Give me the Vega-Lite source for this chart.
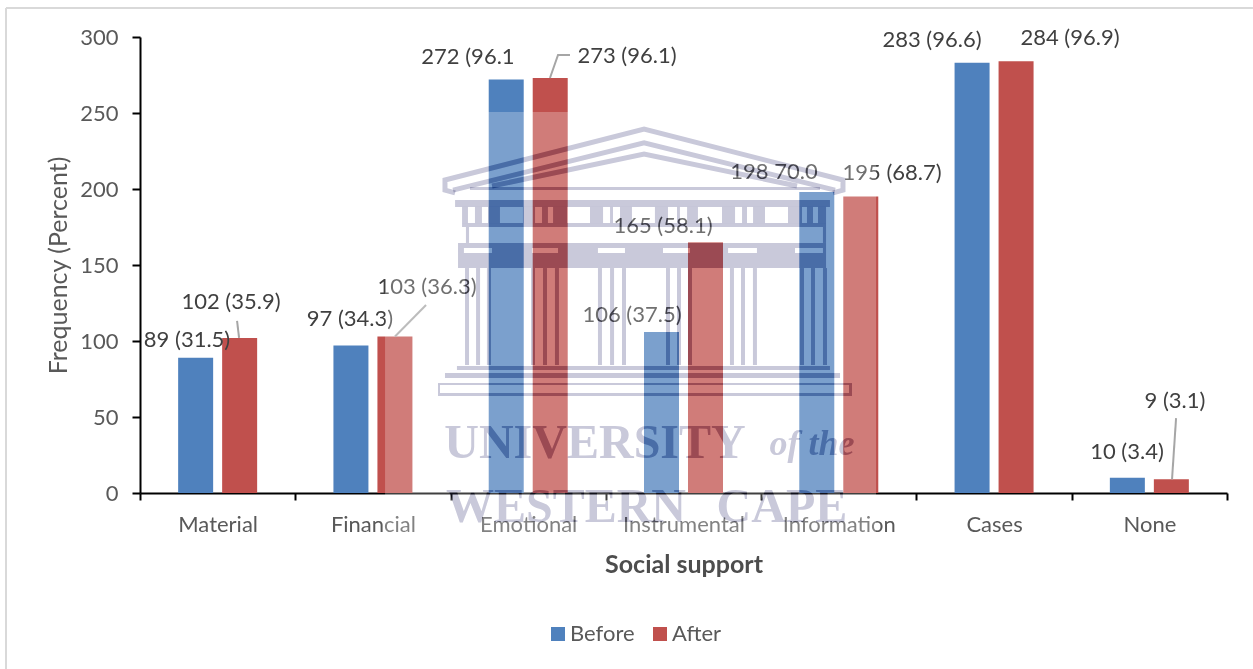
{
  "$schema": "https://vega.github.io/schema/vega-lite/v6.json",
  "width": 1087,
  "height": 456,
  "autosize": "none",
  "padding": {"left": 140, "top": 37, "right": 26, "bottom": 176},
  "background": "white",
  "config": {"view": {"stroke": null}, "font": "Lato"},
  "datasets": {
    "support": [
      {"type": "Material", "period": "Before", "frequency": 89, "label": "89 (31.5)", "labelAt": 0.303, "labelLevel": 100.7},
      {"type": "Material", "period": "After", "frequency": 102, "label": "102 (35.9)", "labelAt": 0.586, "labelLevel": 125.7},
      {"type": "Financial", "period": "Before", "frequency": 97, "label": "97 (34.3)", "labelAt": 1.352, "labelLevel": 114.5},
      {"type": "Financial", "period": "After", "frequency": 103, "label": "103 (36.3)", "labelAt": 1.848, "labelLevel": 135.5},
      {"type": "Emotional", "period": "Before", "frequency": 272, "label": "272 (96.1", "labelAt": 2.112, "labelLevel": 286.8},
      {"type": "Emotional", "period": "After", "frequency": 273, "label": "273 (96.1)", "labelAt": 3.136, "labelLevel": 287.5},
      {"type": "Instrumental", "period": "Before", "frequency": 106, "label": "106 (37.5)", "labelAt": 3.168, "labelLevel": 117.1},
      {"type": "Instrumental", "period": "After", "frequency": 165, "label": "165 (58.1)", "labelAt": 3.368, "labelLevel": 175.7},
      {"type": "Information", "period": "Before", "frequency": 198, "label": "198 70.0", "labelAt": 4.083, "labelLevel": 211.2},
      {"type": "Information", "period": "After", "frequency": 195, "label": "195 (68.7)", "labelAt": 4.843, "labelLevel": 210.5},
      {"type": "Cases", "period": "Before", "frequency": 283, "label": "283 (96.6)", "labelAt": 5.1, "labelLevel": 298},
      {"type": "Cases", "period": "After", "frequency": 284, "label": "284 (96.9)", "labelAt": 5.989, "labelLevel": 299.3},
      {"type": "None", "period": "Before", "frequency": 10, "label": "10 (3.4)", "labelAt": 6.356, "labelLevel": 27},
      {"type": "None", "period": "After", "frequency": 9, "label": "9 (3.1)", "labelAt": 6.665, "labelLevel": 60.5}
    ],
    "frame": [
      {"a": -0.863, "b": 7.167, "lo": 319.08, "hi": 319.08},
      {"a": -0.863, "b": -0.863, "lo": -115.8, "hi": 319.08}
    ],
    "leaders": [
      {"id": "material", "step": 1, "a": 0.625, "level": 113.2},
      {"id": "material", "step": 2, "a": 0.638, "level": 102},
      {"id": "financial", "step": 1, "a": 1.842, "level": 123.7},
      {"id": "financial", "step": 2, "a": 1.642, "level": 103},
      {"id": "emotional", "step": 1, "a": 2.64, "level": 273},
      {"id": "emotional", "step": 2, "a": 2.692, "level": 288.2},
      {"id": "emotional", "step": 3, "a": 2.769, "level": 288.2},
      {"id": "none", "step": 1, "a": 6.646, "level": 9},
      {"id": "none", "step": 2, "a": 6.672, "level": 49.3}
    ],
    "haze": [{"a": 1.578, "b": 4.74, "lo": -30.9, "hi": 250.7}],
    "crestBlocks": [
      {"a": 2.125, "b": 4.379, "lo": 199.3, "hi": 201.3},
      {"a": 2.029, "b": 4.443, "lo": 188.2, "hi": 192.8},
      {"a": 2.074, "b": 4.418, "lo": 175, "hi": 177.6},
      {"a": 2.099, "b": 2.119, "lo": 164.5, "hi": 175},
      {"a": 4.398, "b": 4.418, "lo": 164.5, "hi": 175},
      {"a": 2.048, "b": 4.418, "lo": 161.2, "hi": 164.5},
      {"a": 2.048, "b": 4.418, "lo": 148, "hi": 157.9},
      {"a": 2.048, "b": 2.086, "lo": 157.9, "hi": 161.2},
      {"a": 2.267, "b": 2.524, "lo": 157.9, "hi": 161.2},
      {"a": 2.692, "b": 2.949, "lo": 157.9, "hi": 161.2},
      {"a": 3.123, "b": 3.368, "lo": 157.9, "hi": 161.2},
      {"a": 3.542, "b": 3.787, "lo": 157.9, "hi": 161.2},
      {"a": 3.973, "b": 4.218, "lo": 157.9, "hi": 161.2},
      {"a": 4.398, "b": 4.418, "lo": 157.9, "hi": 161.2},
      {"a": 2.074, "b": 2.112, "lo": 177.6, "hi": 188.2},
      {"a": 2.157, "b": 2.202, "lo": 177.6, "hi": 188.2},
      {"a": 2.241, "b": 2.318, "lo": 177.6, "hi": 188.2},
      {"a": 2.466, "b": 2.544, "lo": 177.6, "hi": 188.2},
      {"a": 2.589, "b": 2.627, "lo": 177.6, "hi": 188.2},
      {"a": 2.66, "b": 2.75, "lo": 177.6, "hi": 188.2},
      {"a": 2.898, "b": 2.982, "lo": 177.6, "hi": 188.2},
      {"a": 3.027, "b": 3.046, "lo": 177.6, "hi": 188.2},
      {"a": 3.091, "b": 3.168, "lo": 177.6, "hi": 188.2},
      {"a": 3.316, "b": 3.4, "lo": 177.6, "hi": 188.2},
      {"a": 3.458, "b": 3.477, "lo": 177.6, "hi": 188.2},
      {"a": 3.523, "b": 3.593, "lo": 177.6, "hi": 188.2},
      {"a": 3.748, "b": 3.832, "lo": 177.6, "hi": 188.2},
      {"a": 3.877, "b": 3.909, "lo": 177.6, "hi": 188.2},
      {"a": 3.948, "b": 4.025, "lo": 177.6, "hi": 188.2},
      {"a": 4.173, "b": 4.263, "lo": 177.6, "hi": 188.2},
      {"a": 4.295, "b": 4.334, "lo": 177.6, "hi": 188.2},
      {"a": 4.366, "b": 4.418, "lo": 177.6, "hi": 188.2},
      {"a": 2.041, "b": 4.443, "lo": 81, "hi": 83.6},
      {"a": 1.964, "b": 4.508, "lo": 75.7, "hi": 78.9},
      {"a": 1.919, "b": 4.585, "lo": 71.1, "hi": 72.4},
      {"a": 1.919, "b": 4.585, "lo": 63.8, "hi": 65.8},
      {"a": 1.919, "b": 1.932, "lo": 65.8, "hi": 71.1},
      {"a": 4.566, "b": 4.585, "lo": 65.8, "hi": 71.1}
    ],
    "crestColumns": [
      {"a": 2.106}, {"a": 2.177}, {"a": 2.247},
      {"a": 2.531}, {"a": 2.608}, {"a": 2.685},
      {"a": 2.962}, {"a": 3.04}, {"a": 3.117},
      {"a": 3.4}, {"a": 3.471}, {"a": 3.542},
      {"a": 3.812}, {"a": 3.883}, {"a": 3.96},
      {"a": 4.263}, {"a": 4.334}, {"a": 4.411}
    ],
    "crestRoof": [
      {"id": "outer", "step": 1, "a": 2.029, "level": 197.4},
      {"id": "outer", "step": 2, "a": 1.964, "level": 199.3},
      {"id": "outer", "step": 3, "a": 1.964, "level": 205.9},
      {"id": "outer", "step": 4, "a": 3.246, "level": 239.5},
      {"id": "outer", "step": 5, "a": 4.527, "level": 205.9},
      {"id": "outer", "step": 6, "a": 4.527, "level": 199.3},
      {"id": "outer", "step": 7, "a": 4.463, "level": 197.4},
      {"id": "middle", "step": 1, "a": 2.016, "level": 199.3},
      {"id": "middle", "step": 2, "a": 3.246, "level": 230.3},
      {"id": "middle", "step": 3, "a": 4.476, "level": 199.3},
      {"id": "inner", "step": 1, "a": 2.267, "level": 202},
      {"id": "inner", "step": 2, "a": 3.246, "level": 223},
      {"id": "inner", "step": 3, "a": 4.231, "level": 202}
    ],
    "crestWords": [
      {"word": "UNIVERSITY", "a": 2.93, "level": 32},
      {"word": "WESTERN", "a": 2.743, "level": -10},
      {"word": "CAPE", "a": 4.134, "level": -10}
    ],
    "crestScript": [
      {"word": "of the", "a": 4.328, "level": 32}
    ]
  },
  "layer": [
    {
      "data": {"name": "frame"},
      "mark": {"type": "rule", "color": "#d9d9d9", "strokeWidth": 2},
      "encoding": {
        "x": {"field": "a", "type": "quantitative", "axis": null, "scale": {"domain": [0, 7], "nice": false}},
        "x2": {"field": "b"},
        "y": {"field": "lo", "type": "quantitative", "axis": null, "scale": {"domain": [0, 300], "nice": false}},
        "y2": {"field": "hi"}
      }
    },
    {
      "data": {"name": "support"},
      "mark": {"type": "bar"},
      "encoding": {
        "x": {
          "field": "type",
          "type": "nominal",
          "sort": null,
          "scale": {"paddingInner": 0, "paddingOuter": 0},
          "axis": {
            "title": "Social support",
            "titleFont": "Lato",
            "titleFontSize": 25,
            "titleFontWeight": "bold",
            "titleColor": "#4d4d4d",
            "titlePadding": 17,
            "labelAngle": 0,
            "labelFont": "Lato",
            "labelFontSize": 22,
            "labelColor": "#595959",
            "labelPadding": 14,
            "domainColor": "#000000",
            "domainWidth": 2,
            "tickColor": "#000000",
            "tickWidth": 2,
            "tickSize": 7,
            "tickBand": "extent",
            "grid": false
          }
        },
        "xOffset": {
          "field": "period",
          "type": "nominal",
          "sort": ["Before", "After"],
          "scale": {"paddingInner": 0.2045, "paddingOuter": 0.867}
        },
        "y": {
          "field": "frequency",
          "type": "quantitative",
          "scale": {"domain": [0, 300], "nice": false},
          "axis": {
            "title": "Frequency (Percent)",
            "titleFont": "Lato",
            "titleFontSize": 25,
            "titleFontWeight": "normal",
            "titleColor": "#595959",
            "titlePadding": 8,
            "values": [0, 50, 100, 150, 200, 250, 300],
            "labelFont": "Lato",
            "labelFontSize": 22,
            "labelColor": "#595959",
            "labelPadding": 14,
            "domainColor": "#000000",
            "domainWidth": 2,
            "tickColor": "#000000",
            "tickWidth": 2,
            "tickSize": 8,
            "grid": false
          }
        },
        "color": {
          "field": "period",
          "type": "nominal",
          "scale": {"domain": ["Before", "After"], "range": ["#4f81bd", "#c0504d"]},
          "legend": {
            "title": null,
            "orient": "none",
            "legendX": 407,
            "legendY": 586,
            "direction": "horizontal",
            "symbolType": "square",
            "symbolSize": 196,
            "symbolStrokeWidth": 0,
            "labelFont": "Lato",
            "labelFontSize": 22,
            "labelColor": "#595959",
            "labelOffset": 1,
            "columnPadding": 14
          }
        }
      }
    },
    {
      "data": {"name": "leaders"},
      "mark": {"type": "line", "color": "#a6a6a6", "strokeWidth": 2},
      "encoding": {
        "x": {"field": "a", "type": "quantitative", "axis": null, "scale": {"domain": [0, 7], "nice": false}},
        "y": {"field": "level", "type": "quantitative", "axis": null, "scale": {"domain": [0, 300], "nice": false}},
        "detail": {"field": "id"},
        "order": {"field": "step"}
      }
    },
    {
      "data": {"name": "support"},
      "mark": {"type": "text", "font": "Lato", "fontSize": 22, "color": "#404040", "baseline": "middle", "align": "center"},
      "encoding": {
        "x": {"field": "labelAt", "type": "quantitative", "axis": null, "scale": {"domain": [0, 7], "nice": false}},
        "y": {"field": "labelLevel", "type": "quantitative", "axis": null, "scale": {"domain": [0, 300], "nice": false}},
        "text": {"field": "label"}
      }
    },
    {
      "data": {"name": "haze"},
      "mark": {"type": "rect", "color": "#ffffff", "opacity": 0.25},
      "encoding": {
        "x": {"field": "a", "type": "quantitative", "axis": null, "scale": {"domain": [0, 7], "nice": false}},
        "x2": {"field": "b"},
        "y": {"field": "lo", "type": "quantitative", "axis": null, "scale": {"domain": [0, 300], "nice": false}},
        "y2": {"field": "hi"}
      }
    },
    {
      "data": {"name": "crestBlocks"},
      "mark": {"type": "rect", "color": "#cfcfd8", "blend": "color-burn"},
      "encoding": {
        "x": {"field": "a", "type": "quantitative", "axis": null, "scale": {"domain": [0, 7], "nice": false}},
        "x2": {"field": "b"},
        "y": {"field": "lo", "type": "quantitative", "axis": null, "scale": {"domain": [0, 300], "nice": false}},
        "y2": {"field": "hi"}
      }
    },
    {
      "data": {"name": "crestColumns"},
      "mark": {"type": "rule", "color": "#cfcfd8", "strokeWidth": 4, "blend": "color-burn"},
      "encoding": {
        "x": {"field": "a", "type": "quantitative", "axis": null, "scale": {"domain": [0, 7], "nice": false}},
        "y": {"datum": 148, "type": "quantitative", "axis": null, "scale": {"domain": [0, 300], "nice": false}},
        "y2": {"datum": 84.2}
      }
    },
    {
      "data": {"name": "crestRoof"},
      "mark": {"type": "line", "color": "#cfcfd8", "strokeWidth": 5, "blend": "color-burn"},
      "encoding": {
        "x": {"field": "a", "type": "quantitative", "axis": null, "scale": {"domain": [0, 7], "nice": false}},
        "y": {"field": "level", "type": "quantitative", "axis": null, "scale": {"domain": [0, 300], "nice": false}},
        "detail": {"field": "id"},
        "order": {"field": "step"}
      }
    },
    {
      "data": {"name": "crestWords"},
      "mark": {"type": "text", "font": "Liberation Serif", "fontWeight": "bold", "fontSize": 48, "color": "#cfcfd8", "baseline": "middle", "align": "center", "blend": "color-burn"},
      "encoding": {
        "x": {"field": "a", "type": "quantitative", "axis": null, "scale": {"domain": [0, 7], "nice": false}},
        "y": {"field": "level", "type": "quantitative", "axis": null, "scale": {"domain": [0, 300], "nice": false}},
        "text": {"field": "word"}
      }
    },
    {
      "data": {"name": "crestScript"},
      "mark": {"type": "text", "font": "Liberation Serif", "fontWeight": "bold", "fontStyle": "italic", "fontSize": 36, "color": "#cfcfd8", "baseline": "middle", "align": "center", "blend": "color-burn"},
      "encoding": {
        "x": {"field": "a", "type": "quantitative", "axis": null, "scale": {"domain": [0, 7], "nice": false}},
        "y": {"field": "level", "type": "quantitative", "axis": null, "scale": {"domain": [0, 300], "nice": false}},
        "text": {"field": "word"}
      }
    },
    {
      "data": {"name": "crestBlocks"},
      "mark": {"type": "rect", "color": "#c9c9da", "blend": "multiply"},
      "encoding": {
        "x": {"field": "a", "type": "quantitative", "axis": null, "scale": {"domain": [0, 7], "nice": false}},
        "x2": {"field": "b"},
        "y": {"field": "lo", "type": "quantitative", "axis": null, "scale": {"domain": [0, 300], "nice": false}},
        "y2": {"field": "hi"}
      }
    },
    {
      "data": {"name": "crestColumns"},
      "mark": {"type": "rule", "color": "#c9c9da", "strokeWidth": 4, "blend": "multiply"},
      "encoding": {
        "x": {"field": "a", "type": "quantitative", "axis": null, "scale": {"domain": [0, 7], "nice": false}},
        "y": {"datum": 148, "type": "quantitative", "axis": null, "scale": {"domain": [0, 300], "nice": false}},
        "y2": {"datum": 84.2}
      }
    },
    {
      "data": {"name": "crestRoof"},
      "mark": {"type": "line", "color": "#c9c9da", "strokeWidth": 5, "blend": "multiply"},
      "encoding": {
        "x": {"field": "a", "type": "quantitative", "axis": null, "scale": {"domain": [0, 7], "nice": false}},
        "y": {"field": "level", "type": "quantitative", "axis": null, "scale": {"domain": [0, 300], "nice": false}},
        "detail": {"field": "id"},
        "order": {"field": "step"}
      }
    },
    {
      "data": {"name": "crestWords"},
      "mark": {"type": "text", "font": "Liberation Serif", "fontWeight": "bold", "fontSize": 48, "color": "#c9c9da", "baseline": "middle", "align": "center", "blend": "multiply"},
      "encoding": {
        "x": {"field": "a", "type": "quantitative", "axis": null, "scale": {"domain": [0, 7], "nice": false}},
        "y": {"field": "level", "type": "quantitative", "axis": null, "scale": {"domain": [0, 300], "nice": false}},
        "text": {"field": "word"}
      }
    },
    {
      "data": {"name": "crestScript"},
      "mark": {"type": "text", "font": "Liberation Serif", "fontWeight": "bold", "fontStyle": "italic", "fontSize": 36, "color": "#c9c9da", "baseline": "middle", "align": "center", "blend": "multiply"},
      "encoding": {
        "x": {"field": "a", "type": "quantitative", "axis": null, "scale": {"domain": [0, 7], "nice": false}},
        "y": {"field": "level", "type": "quantitative", "axis": null, "scale": {"domain": [0, 300], "nice": false}},
        "text": {"field": "word"}
      }
    }
  ],
  "resolve": {"scale": {"x": "independent"}, "axis": {"y": "independent"}}
}
